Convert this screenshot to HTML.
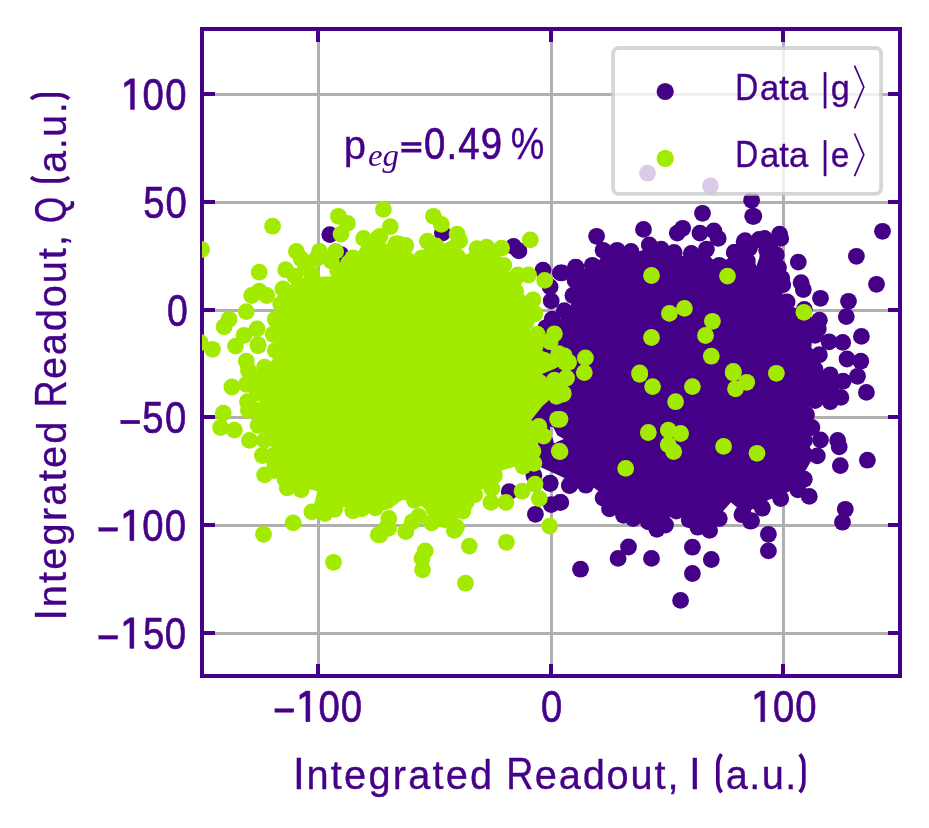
<!DOCTYPE html>
<html><head><meta charset="utf-8"><title>IQ scatter</title>
<style>
html,body{margin:0;padding:0;background:#ffffff;}
body{width:929px;height:828px;overflow:hidden;font-family:"Liberation Sans",sans-serif;}
svg{display:block;}
text{fill:#450088;}
</style></head>
<body>
<svg width="929" height="828" viewBox="0 0 929 828">
<rect x="0" y="0" width="929" height="828" fill="#ffffff"/>
<defs><clipPath id="ax"><rect x="202" y="29" width="698" height="647"/></clipPath></defs>
<g><rect x="317" y="29" width="3" height="647" fill="#b0b0b0"/><rect x="550" y="29" width="3" height="647" fill="#b0b0b0"/><rect x="782" y="29" width="3" height="647" fill="#b0b0b0"/><rect x="202" y="93" width="698" height="3" fill="#b0b0b0"/><rect x="202" y="201" width="698" height="3" fill="#b0b0b0"/><rect x="202" y="309" width="698" height="3" fill="#b0b0b0"/><rect x="202" y="416" width="698" height="3" fill="#b0b0b0"/><rect x="202" y="524" width="698" height="3" fill="#b0b0b0"/><rect x="202" y="632" width="698" height="3" fill="#b0b0b0"/></g>
<g fill="#450088"><rect x="316" y="29" width="4" height="13"/><rect x="316" y="664" width="4" height="12"/><rect x="549" y="29" width="4" height="13"/><rect x="549" y="664" width="4" height="12"/><rect x="781" y="29" width="4" height="13"/><rect x="781" y="664" width="4" height="12"/><rect x="202" y="92" width="13" height="4"/><rect x="888" y="92" width="12" height="4"/><rect x="202" y="200" width="13" height="4"/><rect x="888" y="200" width="12" height="4"/><rect x="202" y="308" width="13" height="4"/><rect x="888" y="308" width="12" height="4"/><rect x="202" y="415" width="13" height="4"/><rect x="888" y="415" width="12" height="4"/><rect x="202" y="523" width="13" height="4"/><rect x="888" y="523" width="12" height="4"/><rect x="202" y="631" width="13" height="4"/><rect x="888" y="631" width="12" height="4"/></g>
<rect x="202" y="29" width="698" height="647" fill="none" stroke="#450088" stroke-width="4"/>
<g clip-path="url(#ax)">
<g fill="#450088">
<polygon stroke="#450088" stroke-width="1.5" stroke-linejoin="round" points="567.4,312.3 575.7,297.6 577.7,282.8 578.6,270.0 594.5,268.1 604.9,253.3 618.6,253.4 632.3,254.6 650.1,248.3 661.7,252.7 674.2,255.9 691.0,257.0 705.6,252.6 718.1,266.5 732.9,255.6 742.5,244.8 751.9,253.3 743.5,243.7 747.8,249.1 750.7,256.0 756.4,268.3 760.0,257.9 762.6,241.4 777.5,237.0 778.6,241.2 774.2,257.3 776.1,270.1 779.2,280.7 780.2,287.0 784.2,303.9 801.2,311.1 816.2,321.5 815.0,329.9 811.7,336.3 810.6,347.8 816.0,355.2 811.6,369.5 826.7,374.7 839.6,381.1 837.5,396.9 826.7,401.0 811.7,399.9 804.2,413.5 808.6,426.2 802.3,438.8 814.3,454.1 805.8,468.5 801.7,476.9 795.4,487.5 778.5,495.8 759.4,502.0 744.7,514.8 750.1,517.6 741.5,510.0 730.9,501.3 718.4,515.2 709.0,527.0 697.4,523.7 688.9,516.2 676.3,507.5 665.8,521.6 657.4,525.9 649.0,518.4 634.3,515.2 624.8,512.1 611.1,505.8 604.9,495.1 588.1,482.5 573.2,481.6 562.6,476.4 552.8,471.9 539.9,466.1 538.1,448.4 540.2,435.6 531.3,426.8 527.4,415.1 529.4,402.3 535.5,394.5 537.4,348.6 547.4,336.0 551.3,329.2"/>
<circle cx="329.8" cy="234.6" r="8.4"/>
<circle cx="341.0" cy="254.6" r="8.4"/>
<circle cx="442.4" cy="233.1" r="8.4"/>
<circle cx="513.5" cy="246.4" r="8.4"/>
<circle cx="518.9" cy="250.9" r="8.4"/>
<circle cx="543.0" cy="270.1" r="8.4"/>
<circle cx="560.4" cy="272.9" r="8.4"/>
<circle cx="575.5" cy="267.1" r="8.4"/>
<circle cx="550.1" cy="286.9" r="8.4"/>
<circle cx="551.2" cy="300.9" r="8.4"/>
<circle cx="578.1" cy="280.4" r="8.4"/>
<circle cx="573.8" cy="295.5" r="8.4"/>
<circle cx="596.6" cy="236.3" r="8.4"/>
<circle cx="643.5" cy="229.4" r="8.4"/>
<circle cx="682.7" cy="228.3" r="8.4"/>
<circle cx="677.3" cy="233.1" r="8.4"/>
<circle cx="702.5" cy="213.3" r="8.4"/>
<circle cx="751.6" cy="200.3" r="8.4"/>
<circle cx="752.7" cy="216.3" r="8.4"/>
<circle cx="699.9" cy="233.1" r="8.4"/>
<circle cx="713.9" cy="230.9" r="8.4"/>
<circle cx="718.2" cy="238.4" r="8.4"/>
<circle cx="744.1" cy="241.7" r="8.4"/>
<circle cx="734.4" cy="252.4" r="8.4"/>
<circle cx="603.1" cy="250.3" r="8.4"/>
<circle cx="617.1" cy="250.3" r="8.4"/>
<circle cx="631.0" cy="251.4" r="8.4"/>
<circle cx="649.3" cy="244.9" r="8.4"/>
<circle cx="661.2" cy="249.2" r="8.4"/>
<circle cx="674.1" cy="252.4" r="8.4"/>
<circle cx="691.3" cy="253.5" r="8.4"/>
<circle cx="706.4" cy="249.2" r="8.4"/>
<circle cx="576.1" cy="267.5" r="8.4"/>
<circle cx="592.3" cy="265.3" r="8.4"/>
<circle cx="562.2" cy="272.9" r="8.4"/>
<circle cx="575.1" cy="280.4" r="8.4"/>
<circle cx="572.9" cy="295.5" r="8.4"/>
<circle cx="564.3" cy="310.6" r="8.4"/>
<circle cx="719.3" cy="265.3" r="8.4"/>
<circle cx="747.3" cy="261.0" r="8.4"/>
<circle cx="759.1" cy="239.5" r="8.4"/>
<circle cx="749.5" cy="248.1" r="8.4"/>
<circle cx="753.8" cy="216.3" r="8.4"/>
<circle cx="882.5" cy="231.3" r="8.4"/>
<circle cx="856.4" cy="256.3" r="8.4"/>
<circle cx="876.5" cy="284.3" r="8.4"/>
<circle cx="848.5" cy="301.3" r="8.4"/>
<circle cx="846.3" cy="316.6" r="8.4"/>
<circle cx="820.5" cy="298.3" r="8.4"/>
<circle cx="798.3" cy="262.1" r="8.4"/>
<circle cx="801.1" cy="282.6" r="8.4"/>
<circle cx="803.3" cy="289.5" r="8.4"/>
<circle cx="779.6" cy="234.1" r="8.4"/>
<circle cx="780.7" cy="238.4" r="8.4"/>
<circle cx="764.5" cy="238.4" r="8.4"/>
<circle cx="745.1" cy="240.6" r="8.4"/>
<circle cx="749.5" cy="246.0" r="8.4"/>
<circle cx="734.4" cy="252.4" r="8.4"/>
<circle cx="766.7" cy="250.3" r="8.4"/>
<circle cx="776.4" cy="254.6" r="8.4"/>
<circle cx="747.3" cy="265.3" r="8.4"/>
<circle cx="778.5" cy="267.5" r="8.4"/>
<circle cx="766.7" cy="271.8" r="8.4"/>
<circle cx="781.7" cy="278.3" r="8.4"/>
<circle cx="782.8" cy="284.7" r="8.4"/>
<circle cx="787.1" cy="301.9" r="8.4"/>
<circle cx="804.3" cy="309.5" r="8.4"/>
<circle cx="819.4" cy="320.2" r="8.4"/>
<circle cx="818.3" cy="328.9" r="8.4"/>
<circle cx="815.1" cy="335.3" r="8.4"/>
<circle cx="829.1" cy="341.8" r="8.4"/>
<circle cx="842.7" cy="342.4" r="8.4"/>
<circle cx="861.4" cy="336.4" r="8.4"/>
<circle cx="819.4" cy="354.7" r="8.4"/>
<circle cx="847.0" cy="359.0" r="8.4"/>
<circle cx="860.8" cy="361.2" r="8.4"/>
<circle cx="550.1" cy="483.5" r="8.4"/>
<circle cx="569.5" cy="485.6" r="8.4"/>
<circle cx="509.2" cy="491.7" r="8.4"/>
<circle cx="533.9" cy="475.5" r="8.4"/>
<circle cx="550.1" cy="483.1" r="8.4"/>
<circle cx="535.4" cy="514.3" r="8.4"/>
<circle cx="551.2" cy="504.6" r="8.4"/>
<circle cx="560.8" cy="502.4" r="8.4"/>
<circle cx="569.5" cy="485.2" r="8.4"/>
<circle cx="547.9" cy="446.5" r="8.4"/>
<circle cx="580.5" cy="569.2" r="8.4"/>
<circle cx="618.1" cy="558.4" r="8.4"/>
<circle cx="628.5" cy="547.0" r="8.4"/>
<circle cx="651.5" cy="558.4" r="8.4"/>
<circle cx="692.4" cy="547.2" r="8.4"/>
<circle cx="711.3" cy="559.5" r="8.4"/>
<circle cx="692.4" cy="573.5" r="8.4"/>
<circle cx="680.6" cy="600.4" r="8.4"/>
<circle cx="570.8" cy="484.1" r="8.4"/>
<circle cx="585.8" cy="485.2" r="8.4"/>
<circle cx="560.0" cy="502.4" r="8.4"/>
<circle cx="603.1" cy="498.1" r="8.4"/>
<circle cx="609.5" cy="508.9" r="8.4"/>
<circle cx="623.5" cy="515.3" r="8.4"/>
<circle cx="633.2" cy="518.6" r="8.4"/>
<circle cx="631.0" cy="498.1" r="8.4"/>
<circle cx="648.3" cy="521.8" r="8.4"/>
<circle cx="656.9" cy="529.3" r="8.4"/>
<circle cx="665.5" cy="525.0" r="8.4"/>
<circle cx="646.1" cy="506.7" r="8.4"/>
<circle cx="676.3" cy="511.0" r="8.4"/>
<circle cx="689.2" cy="519.7" r="8.4"/>
<circle cx="697.8" cy="527.2" r="8.4"/>
<circle cx="709.6" cy="530.4" r="8.4"/>
<circle cx="715.0" cy="514.3" r="8.4"/>
<circle cx="719.3" cy="518.6" r="8.4"/>
<circle cx="743.0" cy="513.2" r="8.4"/>
<circle cx="751.6" cy="520.7" r="8.4"/>
<circle cx="758.1" cy="502.4" r="8.4"/>
<circle cx="710.7" cy="511.0" r="8.4"/>
<circle cx="857.5" cy="376.3" r="8.4"/>
<circle cx="866.4" cy="392.4" r="8.4"/>
<circle cx="815.1" cy="369.4" r="8.4"/>
<circle cx="830.2" cy="374.8" r="8.4"/>
<circle cx="843.1" cy="381.2" r="8.4"/>
<circle cx="840.9" cy="397.4" r="8.4"/>
<circle cx="830.2" cy="401.7" r="8.4"/>
<circle cx="815.1" cy="400.6" r="8.4"/>
<circle cx="806.5" cy="414.6" r="8.4"/>
<circle cx="811.9" cy="427.5" r="8.4"/>
<circle cx="804.3" cy="440.4" r="8.4"/>
<circle cx="820.5" cy="440.0" r="8.4"/>
<circle cx="837.7" cy="440.4" r="8.4"/>
<circle cx="839.2" cy="446.9" r="8.4"/>
<circle cx="817.3" cy="455.9" r="8.4"/>
<circle cx="840.3" cy="465.6" r="8.4"/>
<circle cx="867.4" cy="460.2" r="8.4"/>
<circle cx="804.3" cy="479.2" r="8.4"/>
<circle cx="797.9" cy="489.9" r="8.4"/>
<circle cx="809.3" cy="496.4" r="8.4"/>
<circle cx="780.7" cy="498.5" r="8.4"/>
<circle cx="759.1" cy="500.7" r="8.4"/>
<circle cx="762.4" cy="508.2" r="8.4"/>
<circle cx="741.9" cy="514.7" r="8.4"/>
<circle cx="750.5" cy="521.2" r="8.4"/>
<circle cx="845.3" cy="509.3" r="8.4"/>
<circle cx="842.5" cy="522.2" r="8.4"/>
<circle cx="772.1" cy="485.6" r="8.4"/>
<circle cx="768.4" cy="534.3" r="8.4"/>
<circle cx="768.4" cy="550.9" r="8.4"/>
<circle cx="647.5" cy="173.2" r="8.4"/>
<circle cx="710.4" cy="185.8" r="8.4"/>
<circle cx="552.2" cy="319.2" r="8.4"/>
<circle cx="545.8" cy="327.8" r="8.4"/>
<circle cx="771.2" cy="260.5" r="8.4"/>
</g>
<polygon fill="#ffffff" points="549.8,427.1 553.1,427.1 557.4,435.2 563.8,439.0 557.4,441.7 554.1,443.5 552.5,437.4"/>
<rect x="550" y="427.3" width="3" height="8.5" fill="#b0b0b0"/>
<g fill="#a2ea00">
<polygon stroke="#a2ea00" stroke-width="1.5" stroke-linejoin="round" points="278.8,351.1 276.5,335.3 278.5,320.6 283.7,306.0 285.7,291.2 297.2,278.6 314.2,277.7 331.1,276.9 339.4,273.8 354.0,261.1 364.4,241.9 378.0,241.9 395.8,247.3 398.2,247.3 405.5,249.0 421.1,261.2 426.5,244.6 434.9,249.3 455.6,238.4 458.1,243.7 455.8,259.8 474.9,251.5 484.5,249.9 499.3,250.8 501.3,267.8 515.0,277.2 525.7,277.1 517.0,288.9 529.8,301.4 531.8,315.2 525.3,324.7 533.8,335.2 550.9,335.0 543.6,343.7 541.5,351.5 549.5,354.4 558.5,357.2 562.5,363.7 554.5,368.1 542.5,373.0 537.5,376.9 549.5,380.8 563.7,378.7 559.8,393.9 552.1,396.4 541.3,406.3 530.6,419.9 535.6,425.2 540.4,434.8 536.2,445.3 531.0,461.4 520.3,464.2 498.0,471.0 489.7,485.8 472.8,492.0 464.4,499.4 461.3,507.9 455.1,524.0 443.4,516.4 430.8,519.5 425.5,508.7 416.0,499.4 401.3,499.4 390.8,507.5 380.3,510.8 370.6,508.7 353.8,506.6 335.9,506.8 326.4,511.1 313.7,509.1 318.1,490.9 303.4,486.8 289.6,485.9 287.5,477.4 277.0,469.0 267.3,473.4 267.6,452.1 276.1,453.5 267.7,438.8 261.4,424.1 260.4,409.4 260.5,392.6 261.6,377.9 268.1,367.4"/>
<circle cx="201.5" cy="249.5" r="8.4"/>
<circle cx="200.4" cy="342.6" r="8.4"/>
<circle cx="272.6" cy="226.2" r="8.4"/>
<circle cx="383.4" cy="209.4" r="8.4"/>
<circle cx="338.4" cy="216.3" r="8.4"/>
<circle cx="347.5" cy="223.4" r="8.4"/>
<circle cx="341.0" cy="234.1" r="8.4"/>
<circle cx="390.3" cy="226.6" r="8.4"/>
<circle cx="363.6" cy="238.4" r="8.4"/>
<circle cx="377.6" cy="238.4" r="8.4"/>
<circle cx="395.9" cy="243.8" r="8.4"/>
<circle cx="296.4" cy="251.4" r="8.4"/>
<circle cx="301.2" cy="258.9" r="8.4"/>
<circle cx="319.5" cy="251.4" r="8.4"/>
<circle cx="335.6" cy="251.4" r="8.4"/>
<circle cx="331.3" cy="261.0" r="8.4"/>
<circle cx="316.3" cy="258.9" r="8.4"/>
<circle cx="352.9" cy="257.8" r="8.4"/>
<circle cx="285.7" cy="269.7" r="8.4"/>
<circle cx="259.2" cy="272.2" r="8.4"/>
<circle cx="294.7" cy="276.1" r="8.4"/>
<circle cx="251.7" cy="295.5" r="8.4"/>
<circle cx="259.2" cy="291.2" r="8.4"/>
<circle cx="266.7" cy="295.5" r="8.4"/>
<circle cx="282.9" cy="289.0" r="8.4"/>
<circle cx="246.3" cy="311.6" r="8.4"/>
<circle cx="229.1" cy="319.2" r="8.4"/>
<circle cx="224.1" cy="326.7" r="8.4"/>
<circle cx="257.1" cy="328.9" r="8.4"/>
<circle cx="244.1" cy="335.3" r="8.4"/>
<circle cx="235.5" cy="346.1" r="8.4"/>
<circle cx="258.1" cy="344.6" r="8.4"/>
<circle cx="212.5" cy="349.3" r="8.4"/>
<circle cx="246.3" cy="361.2" r="8.4"/>
<circle cx="275.3" cy="319.2" r="8.4"/>
<circle cx="273.2" cy="334.2" r="8.4"/>
<circle cx="275.3" cy="350.4" r="8.4"/>
<circle cx="280.7" cy="304.1" r="8.4"/>
<circle cx="311.9" cy="275.0" r="8.4"/>
<circle cx="337.8" cy="270.7" r="8.4"/>
<circle cx="305.5" cy="267.5" r="8.4"/>
<circle cx="348.5" cy="263.2" r="8.4"/>
<circle cx="433.4" cy="216.3" r="8.4"/>
<circle cx="441.4" cy="224.4" r="8.4"/>
<circle cx="457.1" cy="234.1" r="8.4"/>
<circle cx="459.7" cy="240.6" r="8.4"/>
<circle cx="398.3" cy="243.8" r="8.4"/>
<circle cx="405.8" cy="245.5" r="8.4"/>
<circle cx="380.0" cy="236.3" r="8.4"/>
<circle cx="427.4" cy="241.2" r="8.4"/>
<circle cx="436.0" cy="246.0" r="8.4"/>
<circle cx="476.9" cy="248.6" r="8.4"/>
<circle cx="486.6" cy="247.1" r="8.4"/>
<circle cx="501.6" cy="248.1" r="8.4"/>
<circle cx="530.3" cy="239.9" r="8.4"/>
<circle cx="422.0" cy="257.8" r="8.4"/>
<circle cx="457.5" cy="256.7" r="8.4"/>
<circle cx="472.6" cy="262.1" r="8.4"/>
<circle cx="489.8" cy="267.5" r="8.4"/>
<circle cx="503.8" cy="265.3" r="8.4"/>
<circle cx="517.8" cy="275.0" r="8.4"/>
<circle cx="528.5" cy="275.0" r="8.4"/>
<circle cx="544.7" cy="280.4" r="8.4"/>
<circle cx="500.6" cy="280.4" r="8.4"/>
<circle cx="515.6" cy="291.2" r="8.4"/>
<circle cx="532.9" cy="299.8" r="8.4"/>
<circle cx="535.0" cy="313.8" r="8.4"/>
<circle cx="526.4" cy="321.3" r="8.4"/>
<circle cx="537.2" cy="334.2" r="8.4"/>
<circle cx="554.4" cy="333.8" r="8.4"/>
<circle cx="550.1" cy="341.8" r="8.4"/>
<circle cx="558.7" cy="353.6" r="8.4"/>
<circle cx="565.1" cy="362.2" r="8.4"/>
<circle cx="543.6" cy="360.1" r="8.4"/>
<circle cx="258.1" cy="345.7" r="8.4"/>
<circle cx="248.4" cy="370.5" r="8.4"/>
<circle cx="231.9" cy="387.0" r="8.4"/>
<circle cx="246.3" cy="384.4" r="8.4"/>
<circle cx="247.4" cy="401.7" r="8.4"/>
<circle cx="248.4" cy="410.3" r="8.4"/>
<circle cx="223.3" cy="413.1" r="8.4"/>
<circle cx="220.5" cy="427.5" r="8.4"/>
<circle cx="234.4" cy="430.1" r="8.4"/>
<circle cx="249.5" cy="440.4" r="8.4"/>
<circle cx="262.4" cy="455.5" r="8.4"/>
<circle cx="264.6" cy="474.9" r="8.4"/>
<circle cx="274.3" cy="470.6" r="8.4"/>
<circle cx="285.0" cy="479.2" r="8.4"/>
<circle cx="287.2" cy="487.8" r="8.4"/>
<circle cx="301.2" cy="489.9" r="8.4"/>
<circle cx="311.9" cy="511.9" r="8.4"/>
<circle cx="324.9" cy="513.6" r="8.4"/>
<circle cx="334.6" cy="509.3" r="8.4"/>
<circle cx="352.9" cy="510.4" r="8.4"/>
<circle cx="293.2" cy="522.9" r="8.4"/>
<circle cx="320.6" cy="483.5" r="8.4"/>
<circle cx="329.2" cy="492.1" r="8.4"/>
<circle cx="264.6" cy="367.2" r="8.4"/>
<circle cx="258.1" cy="378.0" r="8.4"/>
<circle cx="257.1" cy="393.1" r="8.4"/>
<circle cx="257.1" cy="410.3" r="8.4"/>
<circle cx="258.1" cy="425.3" r="8.4"/>
<circle cx="264.6" cy="440.4" r="8.4"/>
<circle cx="273.2" cy="455.5" r="8.4"/>
<circle cx="263.5" cy="534.3" r="8.4"/>
<circle cx="333.5" cy="562.3" r="8.4"/>
<circle cx="378.3" cy="534.7" r="8.4"/>
<circle cx="387.3" cy="526.1" r="8.4"/>
<circle cx="494.4" cy="475.5" r="8.4"/>
<circle cx="353.0" cy="510.7" r="8.4"/>
<circle cx="361.7" cy="508.8" r="8.4"/>
<circle cx="375.3" cy="507.8" r="8.4"/>
<circle cx="388.8" cy="518.4" r="8.4"/>
<circle cx="566.2" cy="378.0" r="8.4"/>
<circle cx="554.4" cy="380.1" r="8.4"/>
<circle cx="563.0" cy="394.1" r="8.4"/>
<circle cx="556.5" cy="396.3" r="8.4"/>
<circle cx="539.3" cy="382.3" r="8.4"/>
<circle cx="557.6" cy="419.3" r="8.4"/>
<circle cx="538.9" cy="426.4" r="8.4"/>
<circle cx="543.6" cy="436.1" r="8.4"/>
<circle cx="559.3" cy="451.2" r="8.4"/>
<circle cx="532.9" cy="451.2" r="8.4"/>
<circle cx="533.9" cy="463.3" r="8.4"/>
<circle cx="523.2" cy="466.3" r="8.4"/>
<circle cx="535.0" cy="484.1" r="8.4"/>
<circle cx="522.1" cy="491.2" r="8.4"/>
<circle cx="539.3" cy="498.6" r="8.4"/>
<circle cx="505.9" cy="502.4" r="8.4"/>
<circle cx="490.9" cy="502.4" r="8.4"/>
<circle cx="491.9" cy="488.4" r="8.4"/>
<circle cx="474.7" cy="494.9" r="8.4"/>
<circle cx="466.1" cy="502.4" r="8.4"/>
<circle cx="462.9" cy="511.0" r="8.4"/>
<circle cx="456.4" cy="527.2" r="8.4"/>
<circle cx="454.3" cy="530.4" r="8.4"/>
<circle cx="444.6" cy="519.7" r="8.4"/>
<circle cx="431.7" cy="522.9" r="8.4"/>
<circle cx="418.8" cy="516.4" r="8.4"/>
<circle cx="405.8" cy="531.5" r="8.4"/>
<circle cx="388.6" cy="528.3" r="8.4"/>
<circle cx="380.0" cy="534.7" r="8.4"/>
<circle cx="412.3" cy="521.8" r="8.4"/>
<circle cx="549.6" cy="526.1" r="8.4"/>
<circle cx="506.4" cy="542.3" r="8.4"/>
<circle cx="469.3" cy="546.1" r="8.4"/>
<circle cx="425.2" cy="550.9" r="8.4"/>
<circle cx="422.0" cy="558.4" r="8.4"/>
<circle cx="422.6" cy="569.8" r="8.4"/>
<circle cx="465.5" cy="583.2" r="8.4"/>
<circle cx="446.7" cy="498.1" r="8.4"/>
<circle cx="414.4" cy="500.3" r="8.4"/>
<circle cx="651.5" cy="275.5" r="8.4"/>
<circle cx="727.5" cy="276.1" r="8.4"/>
<circle cx="669.4" cy="313.4" r="8.4"/>
<circle cx="684.4" cy="308.4" r="8.4"/>
<circle cx="712.4" cy="321.3" r="8.4"/>
<circle cx="705.5" cy="335.5" r="8.4"/>
<circle cx="651.5" cy="337.5" r="8.4"/>
<circle cx="711.3" cy="356.2" r="8.4"/>
<circle cx="585.4" cy="357.9" r="8.4"/>
<circle cx="564.3" cy="355.8" r="8.4"/>
<circle cx="568.6" cy="362.2" r="8.4"/>
<circle cx="733.3" cy="373.0" r="8.4"/>
<circle cx="639.7" cy="373.0" r="8.4"/>
<circle cx="803.9" cy="312.3" r="8.4"/>
<circle cx="565.4" cy="361.8" r="8.4"/>
<circle cx="566.5" cy="378.0" r="8.4"/>
<circle cx="563.2" cy="393.1" r="8.4"/>
<circle cx="584.3" cy="372.6" r="8.4"/>
<circle cx="639.7" cy="374.3" r="8.4"/>
<circle cx="652.6" cy="386.6" r="8.4"/>
<circle cx="692.4" cy="386.6" r="8.4"/>
<circle cx="675.6" cy="401.7" r="8.4"/>
<circle cx="733.3" cy="371.5" r="8.4"/>
<circle cx="746.7" cy="382.3" r="8.4"/>
<circle cx="735.5" cy="388.8" r="8.4"/>
<circle cx="560.0" cy="419.3" r="8.4"/>
<circle cx="648.3" cy="432.5" r="8.4"/>
<circle cx="668.3" cy="430.1" r="8.4"/>
<circle cx="680.6" cy="433.5" r="8.4"/>
<circle cx="668.3" cy="444.7" r="8.4"/>
<circle cx="673.7" cy="451.6" r="8.4"/>
<circle cx="723.6" cy="446.4" r="8.4"/>
<circle cx="757.0" cy="453.3" r="8.4"/>
<circle cx="560.0" cy="451.6" r="8.4"/>
<circle cx="625.7" cy="468.4" r="8.4"/>
<circle cx="776.4" cy="373.3" r="8.4"/>
</g>
</g>
<g>
<rect x="613.1" y="48" width="268" height="145.8" rx="5.6" ry="5.6" fill="#ffffff" fill-opacity="0.8" stroke="#cccccc" stroke-opacity="0.8" stroke-width="3.8"/>
<circle cx="665.2" cy="91.5" r="8.6" fill="#450088"/>
<circle cx="665.2" cy="158.3" r="8.6" fill="#a2ea00"/>
<rect x="823.7" y="72.1" width="2.7" height="36.4" fill="#450088"/>
<rect x="823.7" y="140.1" width="2.7" height="36.1" fill="#450088"/>
<polyline points="854.5,65.6 863.8,87 854.5,108.4" fill="none" stroke="#450088" stroke-width="1.7" stroke-linejoin="miter"/>
<polyline points="854.5,133.5 863.8,154.8 854.5,176.1" fill="none" stroke="#450088" stroke-width="1.7" stroke-linejoin="miter"/>
</g>
<g style="opacity:0.999" stroke="#450088" stroke-width="0.35">
<text transform="translate(142.48,109.5) scale(0.8700,1)" font-family="Liberation Sans, sans-serif" font-size="44" letter-spacing="1.741" stroke-width="0.7">00</text>
<text transform="translate(143.18,217.5) scale(0.8700,1)" font-family="Liberation Sans, sans-serif" font-size="44" letter-spacing="1.282" stroke-width="0.7">50</text>
<text transform="translate(167.12,325.5) scale(0.8476,1)" font-family="Liberation Sans, sans-serif" font-size="44" stroke-width="0.7">0</text>
<text transform="translate(142.28,433.3) scale(0.8700,1)" font-family="Liberation Sans, sans-serif" font-size="44" letter-spacing="1.626" stroke-width="0.7">50</text>
<text transform="translate(142.28,540.7) scale(0.8700,1)" font-family="Liberation Sans, sans-serif" font-size="44" letter-spacing="1.511" stroke-width="0.7">00</text>
<text transform="translate(142.98,648.5) scale(0.8700,1)" font-family="Liberation Sans, sans-serif" font-size="44" letter-spacing="0.707" stroke-width="0.7">50</text>
<text transform="translate(318.58,721.7) scale(0.8700,1)" font-family="Liberation Sans, sans-serif" font-size="44" letter-spacing="1.167" stroke-width="0.7">00</text>
<text transform="translate(540.88,721.7) scale(0.8667,1)" font-family="Liberation Sans, sans-serif" font-size="44" stroke-width="0.7">0</text>
<text transform="translate(772.88,721.7) scale(0.8700,1)" font-family="Liberation Sans, sans-serif" font-size="44" letter-spacing="1.282" stroke-width="0.7">00</text>
<text transform="translate(292.94,788.7) scale(0.9647,1)" font-family="Liberation Sans, sans-serif" font-size="44">I</text>
<text transform="translate(306.53,788.7) scale(0.9700,1)" font-family="Liberation Sans, sans-serif" font-size="41" letter-spacing="2.266">ntegrated</text>
<text transform="translate(506.20,788.7) scale(0.8571,1)" font-family="Liberation Sans, sans-serif" font-size="44">R</text>
<text transform="translate(534.70,788.7) scale(0.9700,1)" font-family="Liberation Sans, sans-serif" font-size="41" letter-spacing="1.922">eadout,</text>
<text transform="translate(688.94,788.7) scale(0.9647,1)" font-family="Liberation Sans, sans-serif" font-size="44">I</text>
<text transform="translate(725.80,788.7) scale(0.9700,1)" font-family="Liberation Sans, sans-serif" font-size="41" letter-spacing="1.474">a.u.</text>
<text transform="translate(65.5,620.86) rotate(-90) scale(0.9647,1)" font-family="Liberation Sans, sans-serif" font-size="44">I</text>
<text transform="translate(65.5,607.27) rotate(-90) scale(0.9700,1)" font-family="Liberation Sans, sans-serif" font-size="41" letter-spacing="2.266">ntegrated</text>
<text transform="translate(65.5,407.60) rotate(-90) scale(0.8571,1)" font-family="Liberation Sans, sans-serif" font-size="44">R</text>
<text transform="translate(65.5,379.10) rotate(-90) scale(0.9700,1)" font-family="Liberation Sans, sans-serif" font-size="41" letter-spacing="1.922">eadout,</text>
<text transform="translate(65.5,222.93) rotate(-90) scale(0.7633,1)" font-family="Liberation Sans, sans-serif" font-size="44">Q</text>
<text transform="translate(65.5,172.90) rotate(-90) scale(0.9700,1)" font-family="Liberation Sans, sans-serif" font-size="41" letter-spacing="1.474">a.u.</text>
<text transform="translate(343.82,158.5) scale(0.9753,1)" font-family="Liberation Sans, sans-serif" font-size="41">p</text>
<text transform="translate(367.94,165.6) scale(1.0642,1)" font-family="Liberation Serif, serif" font-style="italic" stroke="none" font-size="31">eg</text>
<text transform="translate(424.08,158.5) scale(0.8700,1)" font-family="Liberation Sans, sans-serif" font-size="44" letter-spacing="1.371" stroke-width="0.7">0.49</text>
<text transform="translate(510.71,158.5) scale(0.8583,1)" font-family="Liberation Sans, sans-serif" font-size="44">%</text>
<text transform="translate(735.24,99.5) scale(0.8545,1)" font-family="Liberation Sans, sans-serif" font-size="37.2">D</text>
<text transform="translate(760.04,99.5) scale(0.9700,1)" font-family="Liberation Sans, sans-serif" font-size="35.8" letter-spacing="-0.001">ata</text>
<text transform="translate(830.77,99.5) scale(0.9562,1)" font-family="Liberation Sans, sans-serif" font-size="35.8">g</text>
<text transform="translate(735.24,167.2) scale(0.8545,1)" font-family="Liberation Sans, sans-serif" font-size="37.2">D</text>
<text transform="translate(760.04,167.2) scale(0.9700,1)" font-family="Liberation Sans, sans-serif" font-size="35.8" letter-spacing="-0.001">ata</text>
<text transform="translate(830.79,167.2) scale(0.9373,1)" font-family="Liberation Sans, sans-serif" font-size="35.8">e</text>
<polygon fill="#450088" points="134.50,78.70 130.50,78.70 124.40,82.90 124.40,87.30 130.40,83.50 130.40,109.50 134.50,109.50"/>
<rect x="120.8" y="420.20" width="19.00" height="3.6" fill="#450088"/>
<rect x="98.8" y="527.60" width="18.90" height="3.6" fill="#450088"/>
<polygon fill="#450088" points="133.90,509.90 129.90,509.90 123.80,514.10 123.80,518.50 129.80,514.70 129.80,540.70 133.90,540.70"/>
<rect x="98.8" y="635.50" width="18.90" height="3.6" fill="#450088"/>
<polygon fill="#450088" points="133.90,617.70 129.90,617.70 123.80,621.90 123.80,626.30 129.80,622.50 129.80,648.50 133.90,648.50"/>
<rect x="274.9" y="708.70" width="18.90" height="3.6" fill="#450088"/>
<polygon fill="#450088" points="309.90,690.90 305.90,690.90 299.80,695.10 299.80,699.50 305.80,695.70 305.80,721.70 309.90,721.70"/>
<polygon fill="#450088" points="764.80,690.90 760.80,690.90 754.70,695.10 754.70,699.50 760.70,695.70 760.70,721.70 764.80,721.70"/>
<path transform="translate(715.7,788.7)" d="M 5.8,-34.5 Q 2.1,-29.7 2.1,-23.7 L 2.1,-7.2 Q 2.1,-1.2 5.8,3.6" fill="none" stroke="#450088" stroke-width="3.7"/>
<path transform="translate(799.1,788.7)" d="M 0.7,-34.5 Q 4.7,-29.7 4.7,-23.7 L 4.7,-7.2 Q 4.7,-1.2 0.7,3.6" fill="none" stroke="#450088" stroke-width="3.7"/>
<path transform="translate(65.5,617) rotate(-90) translate(434,0)" d="M 5.8,-34.5 Q 2.1,-29.7 2.1,-23.7 L 2.1,-7.2 Q 2.1,-1.2 5.8,3.6" fill="none" stroke="#450088" stroke-width="3.7"/>
<path transform="translate(65.5,617) rotate(-90) translate(517.4,0)" d="M 0.7,-34.5 Q 4.7,-29.7 4.7,-23.7 L 4.7,-7.2 Q 4.7,-1.2 0.7,3.6" fill="none" stroke="#450088" stroke-width="3.7"/>
<rect x="401.6" y="142.3" width="19.5" height="3.2" fill="#450088"/><rect x="401.6" y="149" width="19.5" height="3.2" fill="#450088"/>
</g>
</svg>
</body></html>
